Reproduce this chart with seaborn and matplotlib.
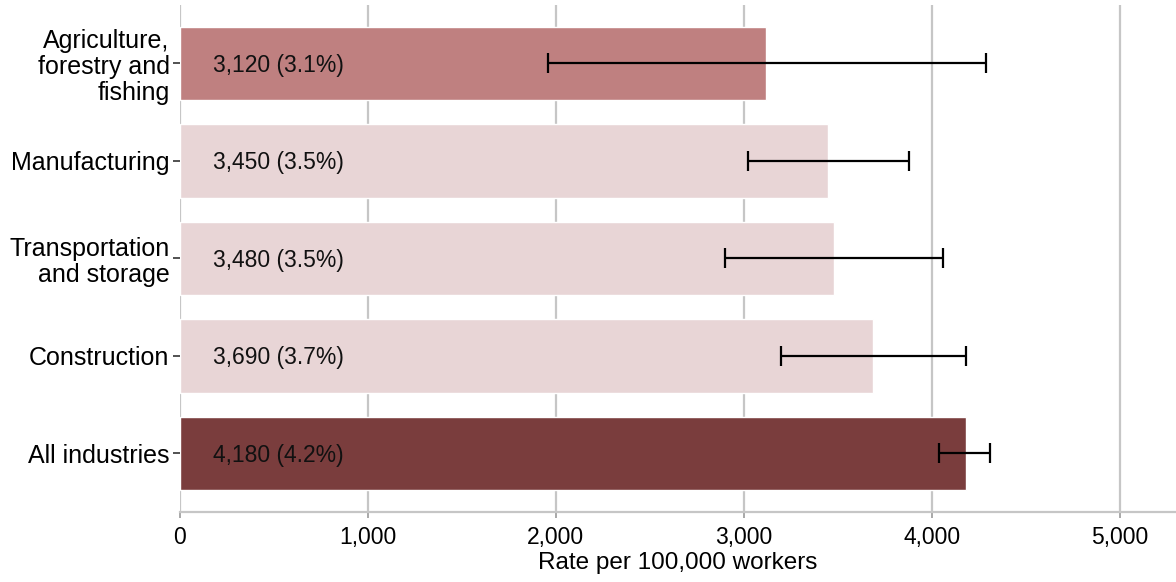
import numpy as np
import pandas as pd
import matplotlib
matplotlib.use('Agg')
import matplotlib.pyplot as plt
import seaborn as sns

# dane
industries = ['Agriculture,\nforestry and\nfishing', 'Manufacturing',
              'Transportation\nand storage', 'Construction', 'All industries']
rates = [3120, 3450, 3480, 3690, 4180]
percents = [3.1, 3.5, 3.5, 3.7, 4.2]
ci_low = [1960, 3020, 2900, 3200, 4040]
ci_high = [4290, 3880, 4060, 4180, 4310]
bar_colors = ['#bf8080', '#e8d5d6', '#e8d5d6', '#e8d5d6', '#7a3d3d']

df = pd.DataFrame({'industry': industries, 'rate': rates})

sns.set_style('white')
plt.rcParams['font.family'] = ['Liberation Sans', 'DejaVu Sans']
plt.rcParams['text.color'] = 'black'
plt.rcParams['axes.labelcolor'] = 'black'
plt.rcParams['xtick.color'] = 'black'
plt.rcParams['ytick.color'] = 'black'

fig = plt.figure(figsize=(11.76, 5.82), dpi=100)
ax = fig.add_axes([180 / 1176, 1 - 512 / 582, 1 - 180 / 1176, 507 / 582])

sns.barplot(data=df, x='rate', y='industry', hue='industry', palette=bar_colors,
            order=industries, legend=False, width=0.75, saturation=1, ax=ax,
            zorder=2)

# przedziały ufności
xerr = np.array([np.array(rates) - np.array(ci_low), np.array(ci_high) - np.array(rates)])
ax.errorbar(rates, range(len(rates)), xerr=xerr, fmt='none', ecolor='black',
            elinewidth=1.6, capsize=7, capthick=1.6, zorder=3)

# etykiety na słupkach
for i, (r, p) in enumerate(zip(rates, percents)):
    ax.text(175, i + 0.02, f'{r:,} ({p}%)', va='center', ha='left', fontsize=16.5,
            color='#111111', zorder=4)

ax.set_xlim(0, 5300)
ax.set_ylim(4.6, -0.6)
ax.set_xticks([0, 1000, 2000, 3000, 4000, 5000])
ax.set_xticklabels([f'{v:,}' for v in [0, 1000, 2000, 3000, 4000, 5000]], fontsize=16.5)
ax.set_xlabel('Rate per 100,000 workers', fontsize=17.5, labelpad=2)
ax.set_ylabel('')
ax.tick_params(axis='y', left=True, labelsize=18, length=5, width=1.2,
               color='#333333', labelcolor='black', pad=2.5)
ax.tick_params(axis='x', bottom=True, length=4, width=1.2, color='#999999',
               labelcolor='black', pad=6)
for lbl in ax.get_yticklabels():
    lbl.set_linespacing(1.1)

ax.grid(axis='x', color='#c6c6c6', linewidth=1.6, zorder=0)
ax.set_axisbelow(True)
for s in ['top', 'right', 'left']:
    ax.spines[s].set_visible(False)
ax.spines['bottom'].set_color('#c6c6c6')
ax.spines['bottom'].set_linewidth(1.6)

fig.savefig('out.png', dpi=100)
